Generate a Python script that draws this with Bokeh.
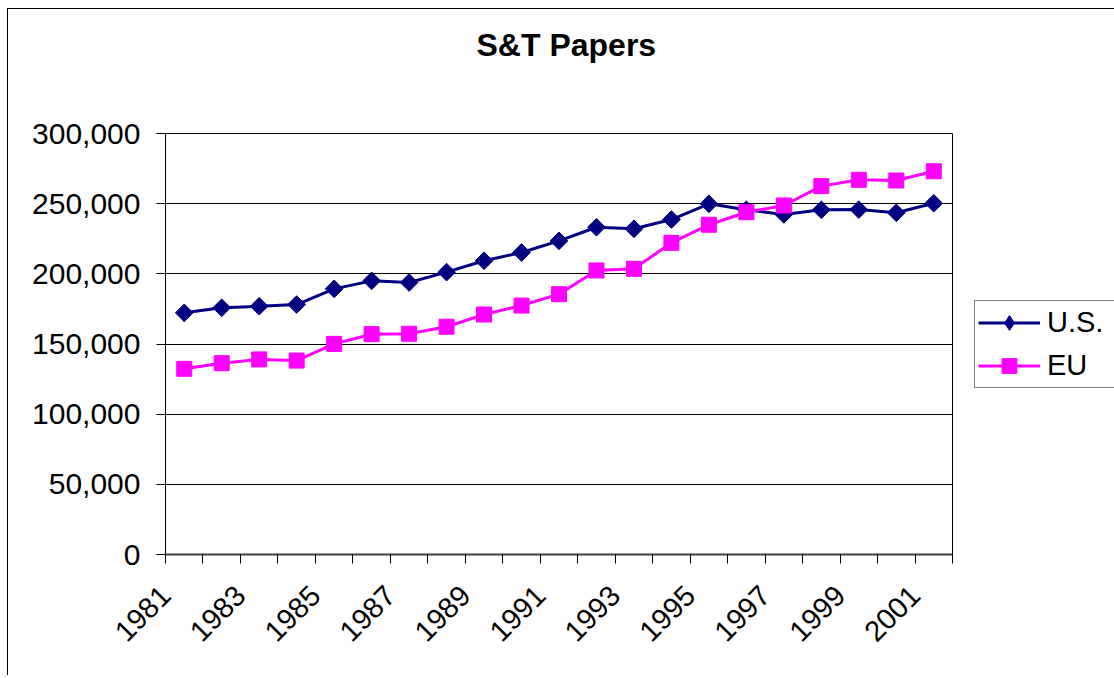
import math
from bokeh.plotting import figure
from bokeh.models import Range1d, FixedTicker, NumeralTickFormatter, Legend, LegendItem, Title
from bokeh.embed import file_html
from bokeh.resources import INLINE

# ---- data ----
years = [str(y) for y in range(1981, 2002)]
us = [172200, 175800, 176900, 178100, 189300, 195000, 193800, 201200, 209300, 215200,
      223500, 233200, 232100, 238700, 249900, 245600, 242300, 245600, 245800, 243500, 250300]
eu = [132300, 136300, 139000, 138200, 150100, 157000, 157300, 162300, 171000, 177400,
      185500, 202400, 203600, 222100, 235000, 243900, 248700, 262500, 267000, 266500, 273100]
y_ticks = [0, 50000, 100000, 150000, 200000, 250000, 300000]
title_text = "S&T Papers"

FONT = "Liberation Sans"

idx = list(range(len(years)))
xc = [i + 0.5 for i in idx]

p = figure(frame_width=787, frame_height=421,
           min_border_left=157, min_border_right=160,
           min_border_top=124, min_border_bottom=122,
           x_range=Range1d(0, len(years)), y_range=Range1d(0, max(y_ticks)),
           output_backend="svg", toolbar_location=None, tools="",
           title=title_text)

p.background_fill_color = "white"
p.border_fill_color = "white"
p.outline_line_color = "black"
p.outline_line_width = 1
p.styles = {"margin-left": "8px", "margin-top": "9px",
            "box-shadow": "-1px -1px 0 0 #000000"}

# title (spacer panel between the title and the plot frame)
p.title.text_font = FONT
p.title.text_font_size = "32px"
p.title.text_font_style = "bold"
p.title.text_color = "black"
p.title.align = "left"
p.title.offset = 311
p.title.standoff = 0
p.add_layout(Title(text=" ", text_font_size="1px", standoff=68), "above")

# x axis
xa = p.xaxis[0]
label_pos = [i for i in idx if i % 2 == 0]
xa.ticker = FixedTicker(ticks=label_pos, minor_ticks=list(range(len(years) + 1)))
xa.major_label_overrides = {i: years[i] for i in label_pos}
xa.major_label_orientation = math.pi / 4
xa.major_tick_out = 0
xa.major_tick_in = 0
xa.minor_tick_out = 9
xa.minor_tick_in = 0
xa.minor_tick_line_color = "black"
xa.axis_line_color = "#404040"
xa.axis_line_width = 2
xa.major_label_standoff = 27
xa.major_label_text_font = FONT
xa.major_label_text_font_size = "29px"
xa.major_label_text_color = "black"

# y axis
ya = p.yaxis[0]
ya.ticker = FixedTicker(ticks=y_ticks, minor_ticks=[])
ya.formatter = NumeralTickFormatter(format="0,0")
ya.major_tick_out = 9
ya.major_tick_in = 0
ya.major_tick_line_color = "black"
ya.axis_line_color = "black"
ya.major_label_standoff = 16
ya.major_label_text_font = FONT
ya.major_label_text_font_size = "30px"
ya.major_label_text_color = "black"

p.xgrid.visible = False
p.ygrid.ticker = FixedTicker(ticks=y_ticks)
p.ygrid.grid_line_color = "black"
p.ygrid.grid_line_width = 1

# series
r1 = p.line(xc, us, line_color="#000080", line_width=3)
d1 = p.scatter(xc, us, marker="diamond", size=12,
               fill_color="#000080", line_color="#000080", line_width=1)
s1 = p.scatter(xc, us, marker="square", angle=math.pi / 4, size=12.5,
               fill_color="#000080", line_color="#000080", line_width=1)
r2 = p.line(xc, eu, line_color="#FF00FF", line_width=3)
s2 = p.scatter(xc, eu, marker="square", size=15,
               fill_color="#FF00FF", line_color="#FF00FF", line_width=1)

legend = Legend(items=[LegendItem(label="U.S.", renderers=[r1, d1]),
                       LegendItem(label="EU", renderers=[r2, s2])],
                location=(22, 166))
legend.label_text_font = FONT
legend.label_text_font_size = "29px"
legend.label_text_color = "black"
legend.glyph_width = 62
legend.glyph_height = 37
legend.label_height = 37
legend.label_width = 64
legend.spacing = 6
legend.padding = 3
legend.margin = 0
legend.label_standoff = 7
legend.border_line_color = "black"
legend.border_line_width = 1
legend.background_fill_color = "white"
legend.background_fill_alpha = 1
p.add_layout(legend, "right")

open("out.html", "w").write(file_html(p, INLINE))
